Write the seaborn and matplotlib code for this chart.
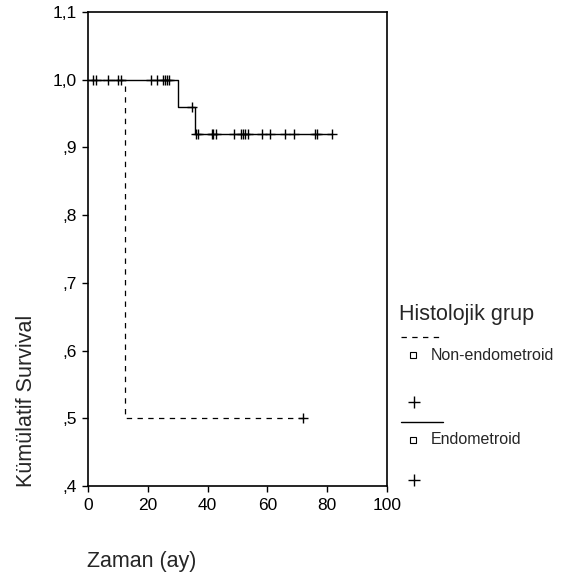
import matplotlib
matplotlib.use("Agg")
import matplotlib.pyplot as plt
from matplotlib.lines import Line2D
import numpy as np
import seaborn as sns

# step curves (time in months, cumulative survival)
endo_times = [0, 30.1, 35.8, 81.6]
endo_surv = [1.0, 0.96, 0.92, 0.92]
endo_cens_t = [1.6, 2.6, 6.6, 10.0, 11.0, 21.0, 23.0, 25.0, 25.7, 26.4, 27.0,
               34.7,
               36.0, 36.6, 41.4, 41.9, 42.7, 48.9, 51.1, 51.7, 52.5, 53.6,
               58.1, 60.9, 65.9, 69.0, 76.0, 76.8, 81.6]
endo_cens_s = [1.0] * 11 + [0.96] + [0.92] * 17

nonendo_times = [0, 12.3, 72.0]
nonendo_surv = [1.0, 0.5, 0.5]
nonendo_cens_t = [72.0]
nonendo_cens_s = [0.5]

yticks = [0.4, 0.5, 0.6, 0.7, 0.8, 0.9, 1.0, 1.1]
ytick_labels = [",4", ",5", ",6", ",7", ",8", ",9", "1,0", "1,1"]
xticks = [0, 20, 40, 60, 80, 100]

sns.set_style("white")
plt.rcParams["font.family"] = ["Liberation Sans", "DejaVu Sans"]

W, H = 574, 577
fig = plt.figure(figsize=(W / 100, H / 100), dpi=100)
ax = fig.add_axes([88.3 / W, 1 - 486 / H, (386.7 - 88.3) / W, (486 - 12) / H])

dash = (0, (4.3, 4.3))
sns.lineplot(x=nonendo_times, y=nonendo_surv, ax=ax, color="black", lw=0.9,
             drawstyle="steps-post", linestyle=dash, estimator=None, sort=False)
sns.lineplot(x=endo_times, y=endo_surv, ax=ax, color="black", lw=1.0,
             drawstyle="steps-post", estimator=None, sort=False)
sns.scatterplot(x=endo_cens_t, y=endo_cens_s, ax=ax, marker="+", s=55,
                color="black", linewidth=1.0, zorder=3)
sns.scatterplot(x=nonendo_cens_t, y=nonendo_cens_s, ax=ax, marker="+", s=55,
                color="black", linewidth=1.0, zorder=3)

ax.set_xlim(0, 100)
ax.set_ylim(0.4, 1.1)
ax.set_xticks(xticks)
ax.set_yticks(yticks)
ax.set_yticklabels(ytick_labels)
ax.set_xlabel("")
ax.set_ylabel("")
ax.tick_params(direction="out", length=4, width=1, pad=4.5, labelsize=12.5,
               colors="black", left=True, bottom=True)
for sp in ax.spines.values():
    sp.set_color("black")
    sp.set_linewidth(1.2)

# axis labels
fig.text(27 / W, 1 - 401 / H, "Kümülatif Survival", rotation=90,
         ha="center", va="center", fontsize=15.5)
fig.text(142 / W, 1 - 561 / H, "Zaman (ay)", ha="center", va="center",
         fontsize=15.5)

# legend (SPSS style)
def fx(px):
    return px / W


def fy(py):
    return 1 - py / H


fig.text(fx(399), fy(320), "Histolojik grup", ha="left", va="baseline",
         fontsize=15.5)
fig.add_artist(Line2D([fx(401), fx(443)], [fy(337), fy(337)], color="black",
                      lw=0.9, linestyle=dash, transform=fig.transFigure))
fig.add_artist(Line2D([fx(401), fx(443)], [fy(422), fy(422)], color="black",
                      lw=1.0, transform=fig.transFigure))
for yy, lab in [(355, "Non-endometroid"), (440, "Endometroid")]:
    fig.add_artist(Line2D([fx(412.5)], [fy(yy)], marker="s", markersize=4,
                          markerfacecolor="white", markeredgecolor="black",
                          markeredgewidth=0.8, linestyle="none",
                          transform=fig.transFigure))
    fig.text(fx(431), fy(yy), lab, ha="left", va="center", fontsize=11.5)
for yy in [402, 480]:
    fig.add_artist(Line2D([fx(413.5)], [fy(yy)], marker="+", markersize=8,
                          markeredgewidth=1.0, color="black", linestyle="none",
                          transform=fig.transFigure))

fig.savefig("out.png", dpi=100, facecolor="white")
